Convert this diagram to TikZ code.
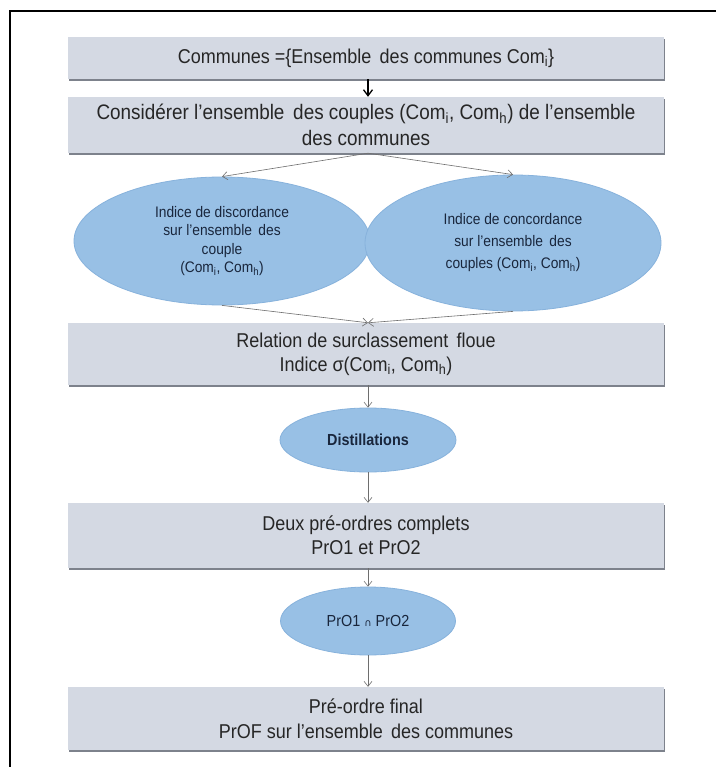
\documentclass[tikz,border=0pt]{standalone}
\usepackage{fontspec}
\setmainfont[FakeStretch=0.9]{Liberation Sans}
\newfontfamily\symfont{DejaVu Sans}
\usetikzlibrary{shapes.geometric,arrows.meta,shadows}
\definecolor{boxfill}{RGB}{212,217,227}
\definecolor{boxshadow}{RGB}{125,130,140}
\definecolor{ellfill}{RGB}{152,192,229}
\definecolor{elldraw}{RGB}{135,178,220}
\definecolor{elltext}{RGB}{25,38,60}
\definecolor{arrowgray}{RGB}{110,110,110}
\tikzset{
  flowbox/.style={rectangle, fill=boxfill, minimum width=596pt, inner sep=0pt,
    align=center, text=black!85, font=\fontsize{20}{24}\selectfont,
    general shadow={fill=boxshadow, shadow xshift=1pt, shadow yshift=-2pt}},
  oval/.style={ellipse, fill=ellfill, draw=elldraw, line width=0.8pt, inner sep=0pt,
    align=center, text=elltext, font=\fontsize{15.3}{18.5}\selectfont},
  flow/.style={draw=arrowgray, line width=0.6pt, -{Straight Barb[length=5pt,width=8pt]}},
  mainflow/.style={draw=black, line width=1.3pt, -{Straight Barb[length=6pt,width=9pt]}}
}
\begin{document}
\begin{tikzpicture}[x=1pt,y=-1pt]
\fill[white] (0,0) rectangle (716,767);
\useasboundingbox (0,0) rectangle (716,767);
\draw[line width=1.5pt] (10,767) -- (10,11) -- (716,11);

\node[flowbox, minimum height=42pt] (b1) at (366,58)
  {Communes =\{Ensemble\, des communes Com\textsubscript{i}\}};
\node[flowbox, minimum height=56pt, font=\fontsize{21}{26}\selectfont] (b2) at (366,125)
  {Considérer l'ensemble\, des couples (Com\textsubscript{i}, Com\textsubscript{h}) de l'ensemble\\des communes};
\node[oval, minimum width=296pt, minimum height=128pt] (e1) at (222,241)
  {Indice de discordance\\sur l'ensemble\, des\\couple\\(Com\textsubscript{i}, Com\textsubscript{h})};
\node[oval, minimum width=296pt, minimum height=136pt, font=\fontsize{15.3}{22}\selectfont] (e2) at (513,243)
  {Indice de concordance\\sur l'ensemble\, des\\couples (Com\textsubscript{i}, Com\textsubscript{h})};
\node[flowbox, minimum height=62pt] (b3) at (366,354)
  {Relation de surclassement\, floue\\Indice σ(Com\textsubscript{i}, Com\textsubscript{h})};
\node[oval, minimum width=176pt, minimum height=64pt, font=\fontsize{16}{18}\bfseries] (d) at (368,440)
  {Distillations};
\node[flowbox, minimum height=65pt] (b4) at (366,535.5)
  {Deux pré-ordres complets\\PrO1 et PrO2};
\node[oval, minimum width=175pt, minimum height=68pt, font=\fontsize{16}{18}\selectfont] (p) at (368,621)
  {PrO1 {\symfont\fontsize{10}{12}\selectfont ∩} PrO2};
\node[flowbox, minimum height=63pt, font=\fontsize{20}{25}\selectfont] (b5) at (366,718.5)
  {Pré-ordre final\\PrOF sur l'ensemble\, des communes};

\draw[mainflow] (b1.south -| 368,0) -- (b2.north -| 368,0);
\draw[flow] (b2.south -| 368,0) -- (e1.north);
\draw[flow] (b2.south -| 368,0) -- (e2.north);
\draw[flow] (e1.south) -- (b3.north -| 368,0);
\draw[flow] (e2.south) -- (b3.north -| 368,0);
\draw[flow] (b3.south -| 368,0) -- (d.north);
\draw[flow] (d.south) -- (b4.north -| 368,0);
\draw[flow] (b4.south -| 368,0) -- (p.north);
\draw[flow] (p.south) -- (b5.north -| 368,0);
\end{tikzpicture}
\end{document}
